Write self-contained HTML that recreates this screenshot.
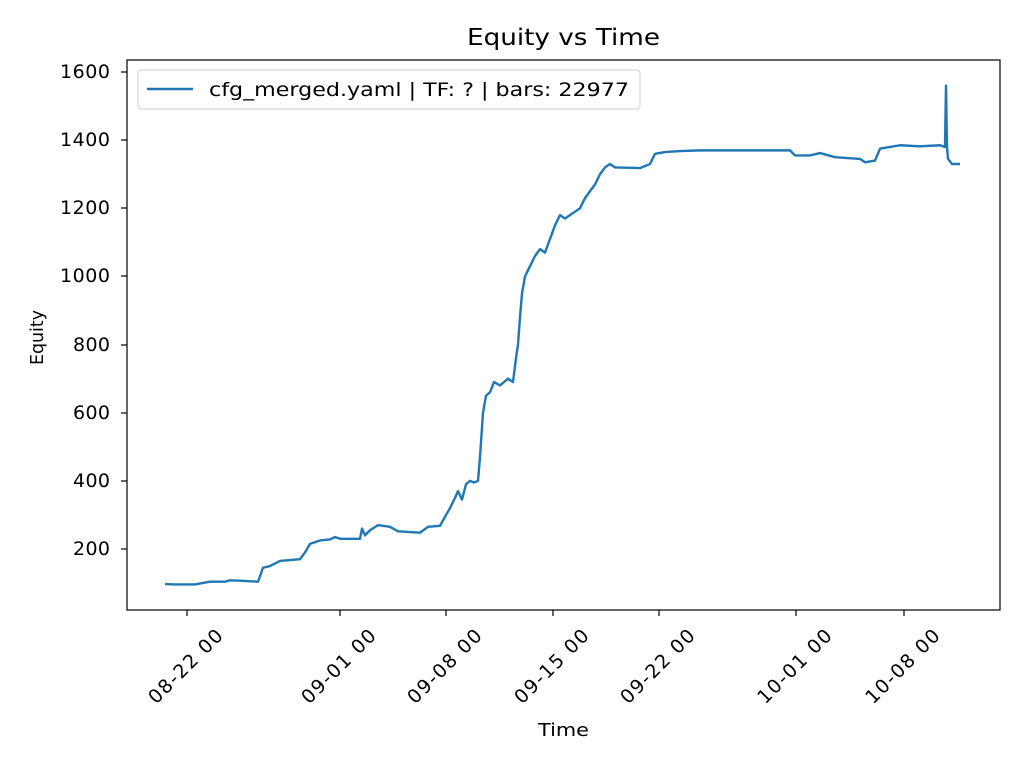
<!DOCTYPE html>
<html><head><meta charset="utf-8"><style>body{margin:0;background:#fff}svg{display:block}text{font-family:"DejaVu Sans","Liberation Sans",sans-serif;fill:#000}</style></head>
<body>
<svg width="1024" height="768" xmlns="http://www.w3.org/2000/svg">
<rect width="1024" height="768" fill="#fff"/>
<text x="467" y="45" font-size="23" textLength="193" lengthAdjust="spacingAndGlyphs">Equity vs Time</text>
<g transform="translate(0,617.14) scale(1,-0.34071)">
<polyline fill="none" stroke="#1f77b4" stroke-width="2.4" vector-effect="non-scaling-stroke" stroke-linejoin="round" points="165,97 175,96 195,96 210,104 225,104 230,108 240,107 258,104 260,120 263,145 270,150 280,165 300,170 305,190 310,215 320,225 330,228 335,235 340,230 360,230 362,260 365,240 370,255 378,270 390,265 398,252 420,248 428,265 440,268 446,300 450,320 455,350 458,370 462,345 466,390 470,400 474,395 478,400 480,470 483,600 486,650 490,660 494,690 500,680 508,700 513,690 516,760 518,800 520,880 522,950 525,1000 530,1030 535,1060 540,1080 545,1070 550,1110 555,1150 560,1180 565,1170 575,1190 580,1200 585,1230 590,1250 595,1270 600,1300 605,1320 610,1330 615,1320 640,1318 650,1330 655,1360 665,1365 680,1368 700,1370 790,1370 795,1355 810,1355 820,1362 835,1350 860,1345 865,1335 875,1340 880,1375 890,1380 900,1385 920,1382 940,1385 945,1380 946,1560 947,1380 948,1345 952,1330 960,1330"/>
</g>
<rect x="127" y="60" width="873" height="550" fill="none" stroke="#000" stroke-width="1.2"/>
<g stroke="#000" stroke-width="1.2">
<line x1="127" x2="121" y1="72" y2="72"/><line x1="127" x2="121" y1="140" y2="140"/><line x1="127" x2="121" y1="208" y2="208"/><line x1="127" x2="121" y1="276" y2="276"/><line x1="127" x2="121" y1="345" y2="345"/><line x1="127" x2="121" y1="413" y2="413"/><line x1="127" x2="121" y1="481" y2="481"/><line x1="127" x2="121" y1="549" y2="549"/>
<line x1="187" x2="187" y1="610" y2="616"/><line x1="340" x2="340" y1="610" y2="616"/><line x1="446" x2="446" y1="610" y2="616"/><line x1="553" x2="553" y1="610" y2="616"/><line x1="659" x2="659" y1="610" y2="616"/><line x1="796" x2="796" y1="610" y2="616"/><line x1="904" x2="904" y1="610" y2="616"/>
</g>
<g font-size="19" text-anchor="end" lengthAdjust="spacingAndGlyphs">
<text x="110" y="78" textLength="50">1600</text><text x="110" y="146" textLength="50">1400</text><text x="110" y="214" textLength="50">1200</text><text x="110" y="282" textLength="50">1000</text><text x="110" y="351" textLength="37">800</text><text x="110" y="419" textLength="37">600</text><text x="110" y="487" textLength="37">400</text><text x="110" y="555" textLength="37">200</text>
<text transform="translate(224,637) rotate(-45)" textLength="96">08-22 00</text>
<text transform="translate(377,637) rotate(-45)" textLength="96">09-01 00</text>
<text transform="translate(483,637) rotate(-45)" textLength="96">09-08 00</text>
<text transform="translate(590,637) rotate(-45)" textLength="96">09-15 00</text>
<text transform="translate(696,637) rotate(-45)" textLength="96">09-22 00</text>
<text transform="translate(833,637) rotate(-45)" textLength="96">10-01 00</text>
<text transform="translate(941,637) rotate(-45)" textLength="96">10-08 00</text>
</g>
<text x="538" y="736" font-size="18" textLength="51" lengthAdjust="spacingAndGlyphs">Time</text>
<text transform="translate(43,365) rotate(-90)" font-size="18" textLength="55" lengthAdjust="spacingAndGlyphs">Equity</text>
<rect x="138" y="70" width="502" height="39" rx="3" fill="#fff" stroke="#ccc" stroke-width="1"/>
<line x1="147" x2="193" y1="89" y2="89" stroke="#1f77b4" stroke-width="2.4"/>
<text x="209" y="96" font-size="19" textLength="420" lengthAdjust="spacingAndGlyphs">cfg_merged.yaml | TF: ? | bars: 22977</text>
</svg>
</body></html>
